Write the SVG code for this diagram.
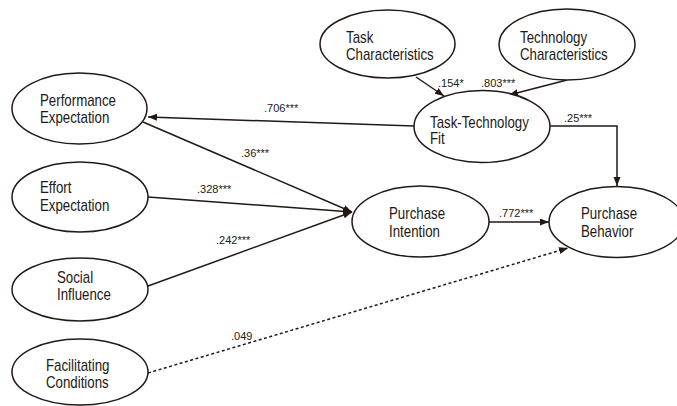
<svg xmlns="http://www.w3.org/2000/svg" width="677" height="406" viewBox="0 0 677 406">
  <style>
    .node ellipse { fill: #ffffff; stroke: #231815; stroke-width: 1.5; }
    .node text { font-family: "Liberation Sans", Arial, sans-serif; font-size: 16px; fill: #231815; }
    .edge { fill: none; stroke: #231815; stroke-width: 1.5; }
    .dash { stroke-dasharray: 3 2.5; }
    .coef { font-family: "Liberation Sans", Arial, sans-serif; font-size: 11px; fill: #231815; }
  </style>
  <defs>
    <marker id="arrow" markerUnits="userSpaceOnUse" markerWidth="10" markerHeight="8" refX="9" refY="3.5" orient="auto">
      <path d="M0,0 L9,3.5 L0,7 z" fill="#231815"/>
    </marker>
  </defs>
  <rect width="677" height="406" fill="#ffffff"/>

  <!-- connectors -->
  <g id="connectors">
    <line class="edge" x1="414" y1="126" x2="148" y2="117" marker-end="url(#arrow)"/>
    <line class="edge" x1="416" y1="77" x2="444" y2="96" marker-end="url(#arrow)"/>
    <line class="edge" x1="567" y1="80" x2="509" y2="95" marker-end="url(#arrow)"/>
    <polyline class="edge" points="550,126 617,126 617,186" marker-end="url(#arrow)"/>
    <line class="edge" x1="143" y1="122" x2="352" y2="212" marker-end="url(#arrow)"/>
    <line class="edge" x1="148" y1="197" x2="352" y2="212" marker-end="url(#arrow)"/>
    <line class="edge" x1="148" y1="286" x2="352" y2="212" marker-end="url(#arrow)"/>
    <line class="edge" x1="489" y1="222" x2="549" y2="222" marker-end="url(#arrow)"/>
    <line class="edge dash" x1="148" y1="373" x2="568" y2="248" marker-end="url(#arrow)"/>

    <text class="coef" x="264" y="112">.706***</text>
    <text class="coef" x="241" y="157">.36***</text>
    <text class="coef" x="197" y="193">.328***</text>
    <text class="coef" x="216" y="244">.242***</text>
    <text class="coef" x="231" y="340">.049</text>
    <text class="coef" x="499" y="217">.772***</text>
    <text class="coef" x="438" y="87">.154*</text>
    <text class="coef" x="481" y="87">.803***</text>
    <text class="coef" x="564" y="122">.25***</text>
  </g>

  <!-- nodes -->
  <g id="task-characteristics" class="node">
    <ellipse cx="387.5" cy="44" rx="67.5" ry="34"/>
    <text transform="translate(346 0) scale(0.83 1)"><tspan x="0" y="43">Task</tspan><tspan x="0" y="60.5">Characteristics</tspan></text>
  </g>
  <g id="technology-characteristics" class="node">
    <ellipse cx="567" cy="44.5" rx="68" ry="35.5"/>
    <text transform="translate(520 0) scale(0.83 1)"><tspan x="0" y="43">Technology</tspan><tspan x="0" y="60.5">Characteristics</tspan></text>
  </g>
  <g id="task-technology-fit" class="node">
    <ellipse cx="482" cy="126.5" rx="68" ry="36"/>
    <text transform="translate(430 0) scale(0.83 1)"><tspan x="0" y="128">Task-Technology</tspan><tspan x="0" y="144.5">Fit</tspan></text>
  </g>
  <g id="performance-expectation" class="node">
    <ellipse cx="79.5" cy="108.5" rx="67.5" ry="35.5"/>
    <text transform="translate(40 0) scale(0.83 1)"><tspan x="0" y="106">Performance</tspan><tspan x="0" y="123">Expectation</tspan></text>
  </g>
  <g id="effort-expectation" class="node">
    <ellipse cx="80" cy="197" rx="68" ry="35"/>
    <text transform="translate(40 0) scale(0.83 1)"><tspan x="0" y="193.5">Effort</tspan><tspan x="0" y="211">Expectation</tspan></text>
  </g>
  <g id="social-influence" class="node">
    <ellipse cx="80" cy="289.5" rx="68" ry="31.5"/>
    <text transform="translate(57 0) scale(0.83 1)"><tspan x="0" y="283">Social</tspan><tspan x="0" y="300.5">Influence</tspan></text>
  </g>
  <g id="facilitating-conditions" class="node">
    <ellipse cx="80" cy="372" rx="68" ry="33"/>
    <text transform="translate(46 0) scale(0.83 1)"><tspan x="0" y="371.5">Facilitating</tspan><tspan x="0" y="388.5">Conditions</tspan></text>
  </g>
  <g id="purchase-intention" class="node">
    <ellipse cx="420.5" cy="221.5" rx="68.5" ry="35.5"/>
    <text transform="translate(389 0) scale(0.83 1)"><tspan x="0" y="219.5">Purchase</tspan><tspan x="0" y="237">Intention</tspan></text>
  </g>
  <g id="purchase-behavior" class="node">
    <ellipse cx="616.5" cy="222" rx="67.5" ry="35.5"/>
    <text transform="translate(581 0) scale(0.83 1)"><tspan x="0" y="219.5">Purchase</tspan><tspan x="0" y="237">Behavior</tspan></text>
  </g>
</svg>
